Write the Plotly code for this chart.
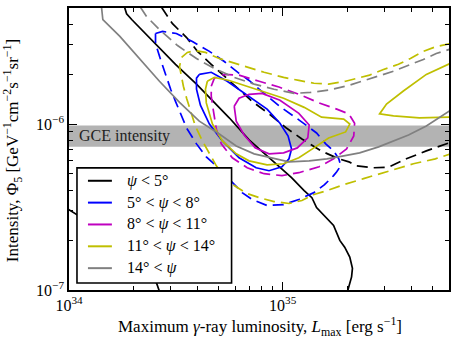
import numpy as np
import plotly.graph_objects as go

# L_max in units of 1e34 erg/s, intensity Phi_5 in units of 1e-6 GeV^-1 cm^-2 s^-1 sr^-1
# psi < 5 deg
psi5_solid_L = [1.82, 1.86, 1.97, 2.52, 3.15, 3.95, 4.69, 5.62, 6.96, 8.91, 11.0, 12.6, 13.7,
                14.4, 15.6, 17.3, 18.5, 19.5, 20.6, 21.2, 21.0, 20.1]
psi5_solid_phi = [5.05, 4.62, 4.25, 3.05, 2.29, 1.74, 1.39, 1.09, 0.802, 0.600, 0.475, 0.397, 0.36,
                  0.314, 0.281, 0.245, 0.199, 0.181, 0.158, 0.135, 0.120, 0.098]
psi5_solid2_L = [0.98, 1.16, 1.73, 2.57, 2.65]
psi5_solid2_phi = [0.31, 0.27, 0.174, 0.110, 0.098]
psi5_dash_L = [2.71, 2.89, 3.05, 3.55, 3.99, 4.63, 5.44, 6.25, 7.19, 8.63, 10.4, 12.3, 15.1, 18.3,
               20.4, 22.2, 26.6, 31.3, 37.9, 47.0, 61.0]
psi5_dash_phi = [5.05, 4.43, 4.02, 3.32, 2.74, 2.29, 1.89, 1.62, 1.37, 1.15, 0.946, 0.813, 0.689, 0.617,
                 0.592, 0.56, 0.545, 0.55, 0.617, 0.689, 0.775]

# 5 < psi < 8 deg
psi8_solid_L = [4.07, 4.63, 5.50, 6.96, 8.45, 9.71, 10.6, 11.0, 10.7, 9.92, 8.63, 7.51, 6.25, 5.22,
                4.54, 4.12, 3.95, 3.95, 4.07]
psi8_solid_phi = [1.99, 2.05, 1.81, 1.47, 1.23, 1.01, 0.847, 0.708, 0.617, 0.553, 0.523, 0.545, 0.626,
                  0.791, 1.0, 1.30, 1.62, 1.89, 1.99]
psi8_dash_L = [2.54, 2.74, 3.18, 3.78, 4.54, 5.33, 6.25, 6.96, 8.18, 9.82, 11.9, 14.4, 15.9, 17.3, 18.3,
               18.7, 17.9, 17.3, 15.7, 14.0, 11.9, 10.1, 8.45, 7.19, 6.46, 5.74, 5.05, 4.39, 3.95, 3.55,
               3.32, 3.15, 2.99, 2.83, 2.68, 2.54, 2.54]
psi8_dash_phi = [3.51, 3.61, 3.51, 3.14, 2.74, 2.38, 2.02, 1.83, 1.53, 1.26, 1.06, 0.883, 0.759, 0.689,
                 0.617, 0.56, 0.516, 0.489, 0.431, 0.386, 0.351, 0.327, 0.323, 0.351, 0.386, 0.456,
                 0.538, 0.634, 0.759, 0.946, 1.15, 1.37, 1.62, 1.97, 2.45, 3.05, 3.51]

# 8 < psi < 11 deg
psi11_solid_L = [5.93, 6.25, 6.96, 8.01, 9.71, 11.9, 13.3, 13.1, 11.7, 10.1, 8.63, 7.43, 6.60, 6.06, 5.93]
psi11_solid_phi = [1.28, 1.43, 1.51, 1.53, 1.39, 1.16, 0.986, 0.824, 0.718, 0.67, 0.661, 0.718, 0.859,
                   1.04, 1.28]
psi11_dash_L = [4.63, 4.79, 5.33, 6.25, 7.76, 9.6, 11.9, 14.8, 17.9, 20.4, 21.7, 21.5, 19.9, 17.3, 14.8,
                11.9, 9.92, 8.18, 6.82, 5.81, 5.16, 4.89, 4.74, 4.63, 4.63]
psi11_dash_phi = [1.69, 1.89, 1.99, 1.97, 1.81, 1.67, 1.51, 1.34, 1.23, 1.15, 1.01, 0.847, 0.708, 0.617,
                  0.553, 0.509, 0.489, 0.502, 0.545, 0.626, 0.759, 0.933, 1.20, 1.47, 1.69]

# 11 < psi < 14 deg
psi14_solid_L = [4.44, 4.79, 5.62, 7.59, 10.1, 12.6, 15.2, 19.3, 20.6, 19.7, 16.4, 14.0, 11.9, 10.1,
                 8.45, 6.96, 6.06, 5.22, 4.69, 4.39, 4.35, 4.44]
psi14_solid_phi = [1.81, 1.91, 1.83, 1.62, 1.43, 1.26, 1.10, 1.07, 1.0, 0.896, 0.824, 0.718, 0.626,
                   0.576, 0.568, 0.600, 0.661, 0.791, 1.0, 1.34, 1.62, 1.81]
psi14_solid2_L = [61.0, 47.0, 36.7, 30.6, 28.4, 33.0, 43.6, 61.0]
psi14_solid2_phi = [2.32, 1.99, 1.58, 1.32, 1.15, 1.12, 1.09, 1.10]
psi14_dash_L = [61.0, 52.3, 45.5, 39.6, 34.8, 29.6, 25.5, 19.7, 16.4, 14.0, 11.9, 10.1, 8.18, 6.96, 5.93,
                5.05, 4.35, 3.90, 3.58, 3.36, 3.29, 3.36, 3.43, 3.55, 3.70, 3.90, 4.21, 4.54, 4.89, 5.33,
                5.93, 6.82, 7.76, 9.11, 10.7, 12.3, 14.0, 16.1, 19.3, 23.9, 29.6, 34.8, 40.9, 51.8, 61.0]
psi14_dash_phi = [3.05, 2.93, 2.74, 2.48, 2.29, 2.13, 1.97, 1.81, 1.74, 1.76, 1.83, 1.91, 2.05, 2.19,
                  2.32, 2.48, 2.70, 2.77, 2.70, 2.52, 2.22, 1.94, 1.69, 1.43, 1.20, 0.973, 0.791, 0.67,
                  0.56, 0.489, 0.426, 0.381, 0.36, 0.341, 0.332, 0.346, 0.376, 0.397, 0.431, 0.469,
                  0.509, 0.538, 0.576, 0.617, 0.661]

# 14 < psi
psiout_solid_L = [1.42, 1.44, 1.73, 2.14, 2.65, 3.29, 4.07, 5.05, 6.06, 7.35, 8.91, 10.7, 13.3, 16.1,
                  19.3, 22.9, 28.1, 33.0, 38.8, 47.0, 61.0]
psiout_solid_phi = [5.05, 4.25, 3.37, 2.48, 1.81, 1.35, 1.04, 0.871, 0.738, 0.661, 0.626, 0.592, 0.600,
                    0.617, 0.643, 0.670, 0.728, 0.791, 0.859, 0.973, 1.21]
psiout_dash_L = [2.16, 2.31, 2.65, 3.22, 3.95, 4.79, 5.93, 7.35, 9.11, 11.3, 13.5, 16.4, 20.4, 25.8,
                 33.0, 38.8, 45.5, 52.3, 61.0]
psiout_dash_phi = [5.05, 4.43, 3.71, 2.97, 2.48, 2.16, 1.91, 1.74, 1.62, 1.53, 1.55, 1.60, 1.71, 1.89,
                   2.08, 2.26, 2.45, 2.66, 2.83]

GCE_BAND = [0.73e-6, 0.98e-6]
X_RANGE = [1e34, 6e35]
Y_RANGE = [1e-7, 5e-6]

LEGEND_LABELS = ["<i>ψ</i> < 5°", "5° < <i>ψ</i> < 8°", "8° < <i>ψ</i> < 11°",
                 "11° < <i>ψ</i> < 14°", "14° < <i>ψ</i>"]
COLORS = ["black", "#0000ff", "#bf00bf", "#bfbf00", "#808080"]

FONT = "Liberation Serif"
DASH = "11px,6px"

# pixel frame of the plot area
PX_L, PX_R, PY_T, PY_B = 69, 450, 6, 290


def px2paper(px):
    return (px - PX_L) / (PX_R - PX_L)


def py2paper(py):
    return (PY_B - py) / (PY_B - PY_T)


curves = [
    (psi5_solid_L, psi5_solid_phi, 0, "solid"),
    (psi5_solid2_L, psi5_solid2_phi, 0, "solid"),
    (psi5_dash_L, psi5_dash_phi, 0, DASH),
    (psi8_solid_L, psi8_solid_phi, 1, "solid"),
    (psi8_dash_L, psi8_dash_phi, 1, DASH),
    (psi11_solid_L, psi11_solid_phi, 2, "solid"),
    (psi11_dash_L, psi11_dash_phi, 2, DASH),
    (psi14_solid_L, psi14_solid_phi, 3, "solid"),
    (psi14_solid2_L, psi14_solid2_phi, 3, "solid"),
    (psi14_dash_L, psi14_dash_phi, 3, DASH),
    (psiout_solid_L, psiout_solid_phi, 4, "solid"),
    (psiout_dash_L, psiout_dash_phi, 4, DASH),
]

fig = go.Figure()
for L, phi, ci, dash in curves:
    fig.add_trace(go.Scatter(
        x=np.array(L) * 1e34, y=np.array(phi) * 1e-6, mode="lines",
        line=dict(color=COLORS[ci], width=1.7, dash=dash),
        showlegend=False, hoverinfo="skip"))

ly0, ly1 = np.log10(Y_RANGE)
band_y0 = (np.log10(GCE_BAND[0]) - ly0) / (ly1 - ly0)
band_y1 = (np.log10(GCE_BAND[1]) - ly0) / (ly1 - ly0)

shapes = [
    dict(type="rect", xref="paper", yref="paper", x0=0, x1=1, y0=band_y0, y1=band_y1,
         fillcolor="#b3b3b3", line=dict(width=0), layer="below"),
    # legend box
    dict(type="rect", xref="paper", yref="paper", x0=px2paper(77), x1=px2paper(232),
         y0=py2paper(283), y1=py2paper(167), fillcolor="white",
         line=dict(color="black", width=1.6), layer="above"),
]
annotations = [
    dict(xref="paper", yref="paper", x=px2paper(77), y=(band_y0 + band_y1) / 2,
         text="GCE intensity", showarrow=False, xanchor="left", yanchor="middle",
         font=dict(family=FONT, size=16, color="#222")),
    dict(xref="paper", yref="paper", x=px2paper(261), y=py2paper(327),
         text="Maximum <i>γ</i>-ray luminosity, <i>L</i><sub>max</sub> [erg s<sup>−1</sup>]",
         showarrow=False, xanchor="center", yanchor="middle",
         font=dict(family=FONT, size=17, color="black")),
    dict(xref="paper", yref="paper", x=px2paper(13), y=py2paper(150), textangle=-90,
         text="Intensity, Φ<sub>5</sub> [GeV<sup>−1</sup>cm<sup>−2</sup>s<sup>−1</sup>sr<sup>−1</sup>]",
         showarrow=False, xanchor="center", yanchor="middle",
         font=dict(family=FONT, size=17, color="black")),
]
for i, (label, color) in enumerate(zip(LEGEND_LABELS, COLORS)):
    yy = py2paper(180 + 22 * i)
    shapes.append(dict(type="line", xref="paper", yref="paper", x0=px2paper(88), x1=px2paper(112),
                       y0=yy, y1=yy, line=dict(color=color, width=2), layer="above"))
    annotations.append(dict(xref="paper", yref="paper", x=px2paper(125), y=yy, text=label,
                            showarrow=False, xanchor="left", yanchor="middle",
                            font=dict(family=FONT, size=16, color="black")))

x_minor = [k * 1e34 for k in range(2, 10)] + [k * 1e35 for k in range(2, 6)]
y_minor = [k * 1e-7 for k in range(2, 10)] + [k * 1e-6 for k in range(2, 5)]

axis_common = dict(showgrid=False, zeroline=False, showline=True, linecolor="black", linewidth=1.6,
                   mirror="ticks", ticks="inside", ticklen=8, tickwidth=1, tickcolor="black",
                   tickfont=dict(family=FONT, size=16, color="black"))

fig.update_xaxes(type="log", range=list(np.log10(X_RANGE)), tickmode="array",
                 tickvals=[1e34, 1e35], ticktext=["10<sup>34</sup>", "10<sup>35</sup>"],
                 minor=dict(tickmode="array", tickvals=x_minor, ticks="inside", ticklen=4,
                            tickcolor="black", showgrid=False),
                 **axis_common)
fig.update_yaxes(type="log", range=list(np.log10(Y_RANGE)), tickmode="array",
                 tickvals=[1e-7, 1e-6], ticktext=["10<sup>−7</sup>", "10<sup>−6</sup>"],
                 minor=dict(tickmode="array", tickvals=y_minor, ticks="inside", ticklen=4,
                            tickcolor="black", showgrid=False),
                 **axis_common)

fig.update_layout(width=457, height=343, margin=dict(l=PX_L, r=457 - PX_R, t=PY_T, b=343 - PY_B),
                  paper_bgcolor="white", plot_bgcolor="white", shapes=shapes,
                  annotations=annotations, showlegend=False)

# the page body has a default 8px margin; remove it so the figure sits at the window corner
fig.write_html("out.html", config={"displayModeBar": False},
               post_script="document.body.style.margin='0';")
